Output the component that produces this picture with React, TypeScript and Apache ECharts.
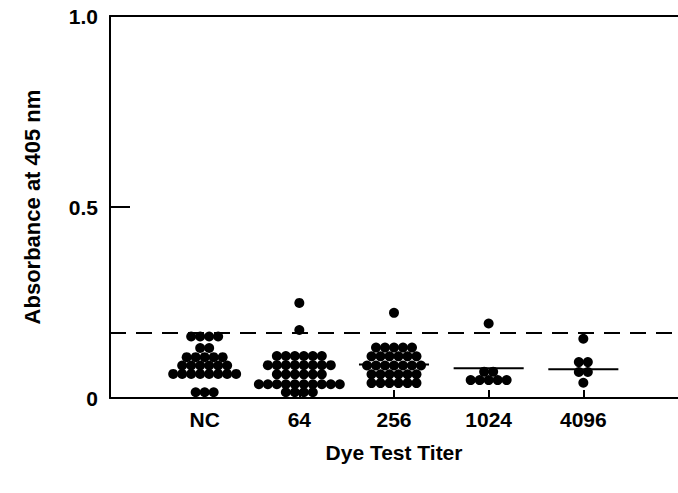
import React, { useEffect, useRef } from 'react';
import * as echarts from 'echarts';

const categories = ['NC', '64', '256', '1024', '4096'];

// Absorbance values for each group (one entry per dot)
const ncValues = [
  0.161, 0.161, 0.161, 0.161,
  0.131, 0.131,
  0.107, 0.107, 0.107, 0.107, 0.107,
  0.085, 0.085, 0.085, 0.085, 0.085, 0.085,
  0.063, 0.063, 0.063, 0.063, 0.063, 0.063, 0.063, 0.063,
  0.015, 0.015, 0.015,
];
const t64Values = [
  0.249, 0.178,
  0.11, 0.11, 0.11, 0.11, 0.11, 0.11,
  0.086, 0.086, 0.086, 0.086, 0.086, 0.086, 0.086, 0.086,
  0.062, 0.062, 0.062, 0.062, 0.062, 0.062,
  0.036, 0.036, 0.036, 0.036, 0.036, 0.036, 0.036, 0.036, 0.036, 0.036,
  0.015, 0.015, 0.015, 0.015,
];
const t256Values = [
  0.223,
  0.132, 0.132, 0.132, 0.132, 0.132,
  0.109, 0.109, 0.109, 0.109, 0.109, 0.109,
  0.085, 0.085, 0.085, 0.085, 0.085, 0.085, 0.085,
  0.062, 0.062, 0.062, 0.062, 0.062, 0.062,
  0.039, 0.039, 0.039, 0.039, 0.039, 0.039,
];
const t1024Values = [0.195, 0.069, 0.069, 0.047, 0.047, 0.047, 0.047, 0.047];
const t4096Values = [0.155, 0.094, 0.094, 0.068, 0.068, 0.04];

const groupValues = [ncValues, t64Values, t256Values, t1024Values, t4096Values];
// Horizontal bar (group level) drawn for some groups
const groupLineValues: (number | null)[] = [null, null, 0.088, 0.078, 0.075];
const cutoffValue = 0.173;

const yTickLabels: Record<string, string> = { '0': '0', '0.5': '0.5', '1': '1.0' };

const DOT_STEP = 0.095; // horizontal spacing between dots in a row (x units)
const LINE_HALF = 0.37;

function swarmPoints(values: number[], pos: number): number[][] {
  const counts = new Map<number, number>();
  values.forEach((v) => counts.set(v, (counts.get(v) || 0) + 1));
  const pts: number[][] = [];
  counts.forEach((n, v) => {
    for (let k = 0; k < n; k++) {
      pts.push([pos + (k - (n - 1) / 2) * DOT_STEP, v]);
    }
  });
  return pts;
}

const FONT = "'Liberation Sans', Arial, Helvetica, sans-serif";

export default function App() {
  const ref = useRef<HTMLDivElement>(null);
  useEffect(() => {
    if (!ref.current) return;
    const chart = echarts.init(ref.current, undefined, { renderer: 'svg' });
    const dots: number[][] = [];
    groupValues.forEach((vals, i) => dots.push(...swarmPoints(vals, i + 1)));

    const lineSeries: any[] = [];
    groupLineValues.forEach((v, i) => {
      if (v == null) return;
      lineSeries.push({
        type: 'line',
        data: [
          [i + 1 - LINE_HALF, v],
          [i + 1 + LINE_HALF, v],
        ],
        symbol: 'none',
        lineStyle: { color: '#000', width: 2 },
        z: 3,
        silent: true,
      });
    });

    chart.setOption({
      animation: false,
      backgroundColor: '#fff',
      grid: { left: 110, right: 0, top: 16, bottom: 95, containLabel: false },
      xAxis: [
        {
          type: 'value',
          min: 0,
          max: 6,
          interval: 1,
          position: 'bottom',
          axisLine: { show: true, lineStyle: { color: '#000', width: 2 } },
          axisTick: { show: true, inside: true, length: 8, lineStyle: { color: '#000', width: 2 } },
          splitLine: { show: false },
          axisLabel: {
            color: '#000',
            fontFamily: FONT,
            fontWeight: 'bold',
            fontSize: 21,
            margin: 11,
            showMinLabel: false,
            showMaxLabel: false,
            formatter: (v: number) => categories[Math.round(v) - 1] ?? '',
          },
          name: 'Dye Test Titer',
          nameLocation: 'middle',
          nameGap: 44,
          nameTextStyle: { color: '#000', fontFamily: FONT, fontWeight: 'bold', fontSize: 21 },
        },
        {
          type: 'value',
          min: 0,
          max: 6,
          position: 'top',
          axisLine: { show: true, lineStyle: { color: '#000', width: 2 } },
          axisTick: { show: false },
          axisLabel: { show: false },
          splitLine: { show: false },
        },
      ],
      yAxis: {
        type: 'value',
        min: 0,
        max: 1,
        interval: 0.5,
        axisLine: { show: true, lineStyle: { color: '#000', width: 2 } },
        axisTick: { show: true, inside: true, length: 20, lineStyle: { color: '#000', width: 2 } },
        splitLine: { show: false },
        axisLabel: {
          color: '#000',
          fontFamily: FONT,
          fontWeight: 'bold',
          fontSize: 21,
          margin: 12,
          formatter: (v: number) => yTickLabels[String(v)] ?? String(v),
        },
        name: 'Absorbance at 405 nm',
        nameLocation: 'middle',
        nameGap: 67,
        nameTextStyle: { color: '#000', fontFamily: FONT, fontWeight: 'bold', fontSize: 22 },
      },
      series: [
        {
          type: 'scatter',
          data: dots,
          symbol: 'circle',
          symbolSize: 10,
          itemStyle: { color: '#000', opacity: 1 },
          z: 4,
          silent: true,
          markLine: {
            silent: true,
            symbol: 'none',
            label: { show: false },
            lineStyle: { color: '#000', width: 2, type: [16, 10] },
            data: [{ yAxis: cutoffValue }],
          },
        },
        ...lineSeries,
      ],
    });
    return () => chart.dispose();
  }, []);
  return <div ref={ref} style={{ width: 678, height: 493, position: 'absolute', left: 0, top: 0 }} />;
}
